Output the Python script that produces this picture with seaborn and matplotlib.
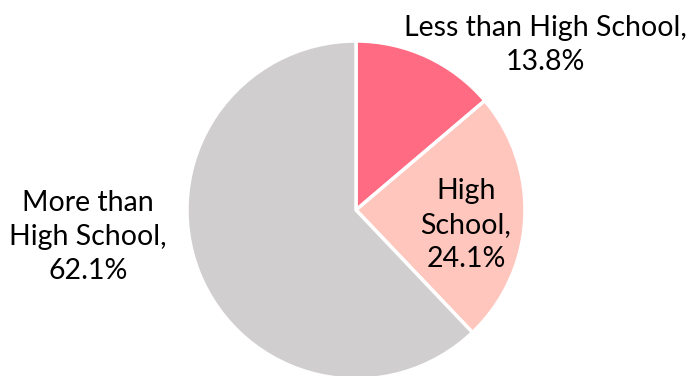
import matplotlib
matplotlib.use("Agg")
import matplotlib.pyplot as plt
import seaborn as sns

# Data
categories = ["Less than High School", "High School", "More than High School"]
shares = [13.8, 24.1, 62.1]
label_text = ["Less than High School,\n13.8%", "High\nSchool,\n24.1%", "More than\nHigh School,\n62.1%"]

colors = ["#FF6B82", "#FFC6BE", "#D0CECF"]

sns.set_theme(style="white")
plt.rcParams['font.family'] = ['Lato', 'DejaVu Sans']

fig = plt.figure(figsize=(6.91, 3.76), dpi=100)
# pie centre at (356, 210) px, radius 169 px
r_px = 169
ax = fig.add_axes([(356 - r_px) / 691, (376 - 210 - r_px) / 376, 2 * r_px / 691, 2 * r_px / 376])

ax.pie(shares, colors=colors, startangle=90, counterclock=False, radius=1,
       wedgeprops=dict(edgecolor="white", linewidth=2.5))
ax.set_xlim(-1, 1)
ax.set_ylim(-1, 1)
ax.set_aspect("equal")
ax.axis("off")

# label positions (data coords, radius = 1)
label_pos = [(1.118, 0.976), (0.651, -0.089), (-1.586, -0.16)]
for txt, (x, y) in zip(label_text, label_pos):
    ax.text(x, y, txt, ha="center", va="center", fontsize=20.5, color="#000000",
            linespacing=1.38, clip_on=False)

plt.savefig("out.png", dpi=100)
